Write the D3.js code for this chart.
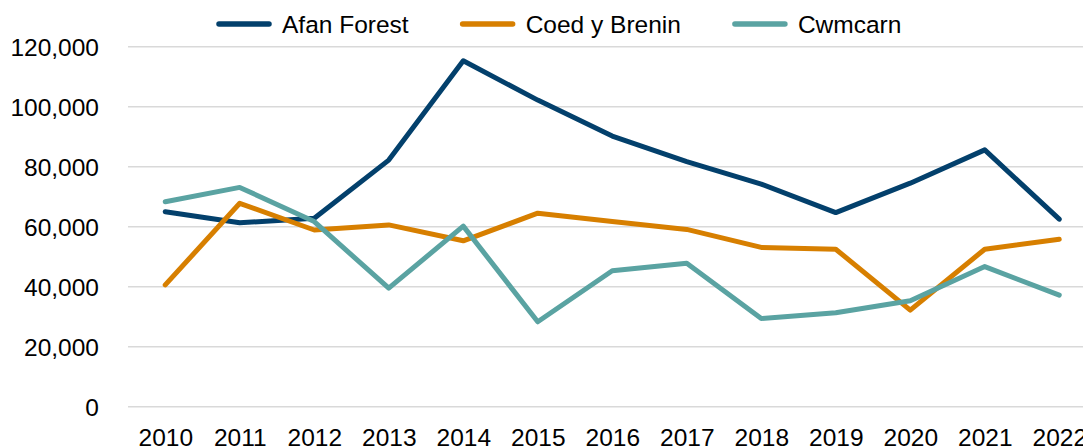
<!DOCTYPE html>
<html>
<head>
<meta charset="utf-8">
<script src="https://cdn.jsdelivr.net/npm/d3@7"></script>
<style>
  html, body { margin: 0; padding: 0; background: #fff; }
  svg { display: block; font-family: "Liberation Sans", Arial, sans-serif; }
</style>
</head>
<body>
<svg id="chart" width="1083" height="448"></svg>
<script>
// --------------------------------------------
// DONNEES
// --------------------------------------------
const years = ["2010", "2011", "2012", "2013", "2014", "2015", "2016",
  "2017", "2018", "2019", "2020", "2021", "2022"];

const afanForest = [65000, 61300, 62800, 82200, 115300, 102200, 90200,
  81700, 74200, 64700, 74500, 85600, 62500];
const coedYBrenin = [40600, 67800, 58900, 60600, 55300, 64500, 61700,
  59100, 53100, 52500, 32200, 52500, 55800];
const cwmcarn = [68300, 73100, 61700, 39500, 60200, 28300, 45300,
  47800, 29400, 31300, 35300, 46700, 37200];

const yTicks = [0, 20000, 40000, 60000, 80000, 100000, 120000];

const series = [
  { name: "Afan Forest", values: afanForest, color: "#03406c" },
  { name: "Coed y Brenin", values: coedYBrenin, color: "#d77f00" },
  { name: "Cwmcarn", values: cwmcarn, color: "#5aa3a2" },
];

// --------------------------------------------
// ECHELLES
// --------------------------------------------
const svg = d3.select("#chart");
const plot = { left: 128, right: 1096.5, top: 46.7, bottom: 406.7 };
const fontSize = 24.5;

const x = d3.scalePoint()
  .domain(years)
  .range([plot.left, plot.right])
  .padding(0.5);

const y = d3.scaleLinear()
  .domain([0, 120000])
  .range([plot.bottom, plot.top]);

// Grille horizontale
svg.append("g")
  .selectAll("line")
  .data(yTicks)
  .join("line")
  .attr("x1", plot.left)
  .attr("x2", plot.right)
  .attr("y1", (d) => y(d))
  .attr("y2", (d) => y(d))
  .attr("stroke", "#d9d9d9")
  .attr("stroke-width", 1.6);

// Axe Y (libellés seulement)
const yAxis = svg.append("g")
  .attr("transform", "translate(99,0)")
  .call(d3.axisLeft(y).tickValues(yTicks).tickFormat(d3.format(",")).tickSize(0).tickPadding(0));
yAxis.select(".domain").remove();
yAxis.selectAll("text")
  .attr("font-size", fontSize)
  .attr("font-family", "Liberation Sans, Arial, sans-serif")
  .attr("fill", "#000")
  .attr("dy", "0.36em");

// Axe X (libellés seulement)
const xAxis = svg.append("g")
  .attr("transform", `translate(0,${plot.bottom})`)
  .call(d3.axisBottom(x).tickSize(0).tickPadding(0));
xAxis.select(".domain").remove();
xAxis.selectAll("text")
  .attr("font-size", fontSize)
  .attr("font-family", "Liberation Sans, Arial, sans-serif")
  .attr("fill", "#000")
  .attr("dy", 0)
  .attr("y", 39);

// --------------------------------------------
// COURBES
// --------------------------------------------
const line = d3.line()
  .x((d, i) => x(years[i]))
  .y((d) => y(d));

svg.append("g")
  .selectAll("path")
  .data(series)
  .join("path")
  .attr("d", (s) => line(s.values))
  .attr("fill", "none")
  .attr("stroke", (s) => s.color)
  .attr("stroke-width", 5)
  .attr("stroke-linejoin", "round")
  .attr("stroke-linecap", "round");

// --------------------------------------------
// LEGENDE
// --------------------------------------------
const legend = svg.append("g").attr("transform", "translate(0,24)");
let lx = 217;
series.forEach((s) => {
  legend.append("line")
    .attr("x1", lx + 2)
    .attr("x2", lx + 52)
    .attr("stroke", s.color)
    .attr("stroke-width", 5.5)
    .attr("stroke-linecap", "round");
  const t = legend.append("text")
    .attr("x", lx + 65)
    .attr("dy", "0.36em")
    .attr("font-size", fontSize)
    .attr("fill", "#000")
    .text(s.name);
  lx = lx + 65 + t.node().getComputedTextLength() + 52;
});
</script>
</body>
</html>
